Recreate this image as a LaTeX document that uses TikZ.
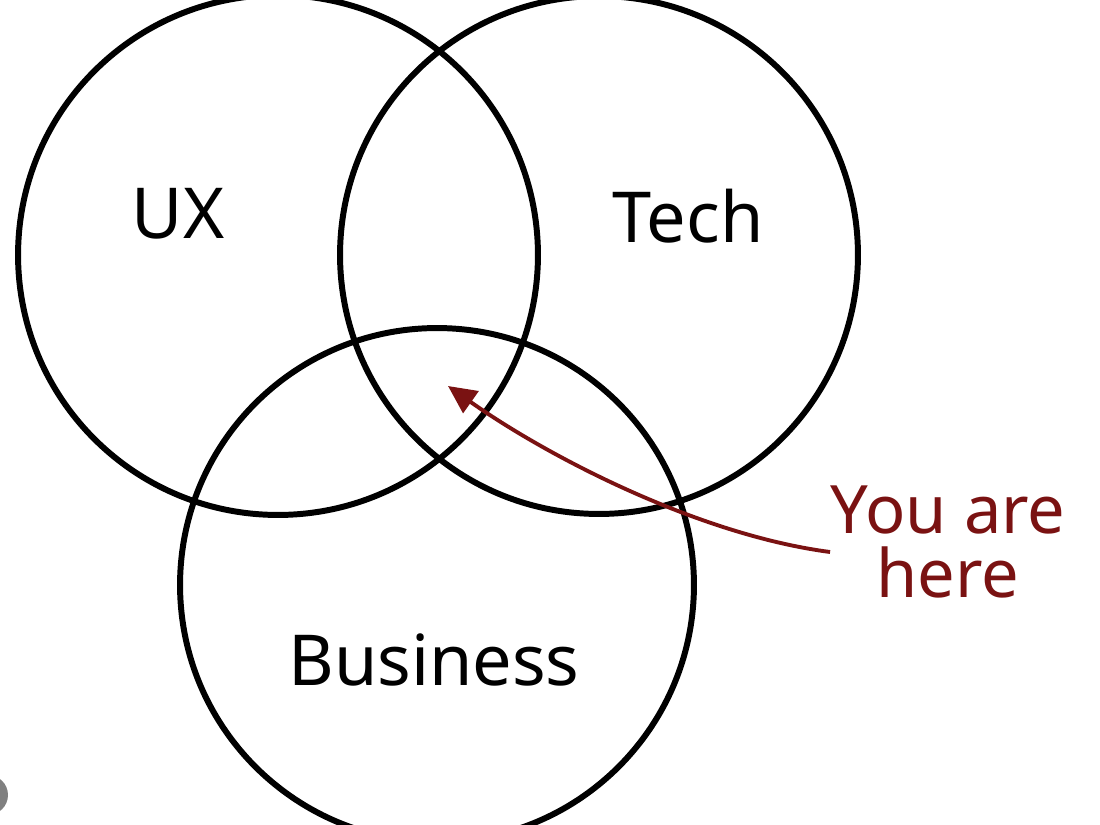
\documentclass[tikz,border=0pt]{standalone}
\usepackage{fontspec}
\setmainfont{Noto Sans}
\usetikzlibrary{arrows.meta}
\definecolor{darkred}{RGB}{122,18,18}

\begin{document}
\begin{tikzpicture}[x=0.02cm,y=-0.02cm,>={Triangle[length=16pt,width=15pt]},
 semithick]
 \tikzstyle{ring}=[circle,draw=black,line width=3.4pt,inner sep=0pt]
 \tikzstyle{word}=[font=\fontsize{40}{44}\selectfont,text=black]
 \tikzstyle{pointer}=[->,draw=darkred,line width=2.2pt]
 \useasboundingbox (0,0) rectangle (1100,825);
 \clip (0,0) rectangle (1100,825);
 \node[ring,minimum size=10.4cm]  (ux)   at (278,255) {};
 \node[ring,minimum size=10.36cm] (tech) at (599,255) {};
 \node[ring,minimum size=10.28cm] (biz)  at (437,585) {};
 \node[circle,fill=gray,minimum size=0.8cm] (dot) at (-12,795) {};

 \node[word] (uxt)   at (178,214) {UX};
 \node[word] (techt) at (688,216) {Tech};
 \node[word] (bizt)  at (434,660) {Business};
 \node[word,text=darkred,align=center,font=\fontsize{38}{36}\selectfont,
  inner sep=0pt] (here) at (948,542) {You are\\here};
 \coordinate (spot) at (448,386);

 \draw[pointer] ([yshift=-0.2cm]here.west) .. controls (700,535) and (550,458) .. (spot);
\end{tikzpicture}
\end{document}
